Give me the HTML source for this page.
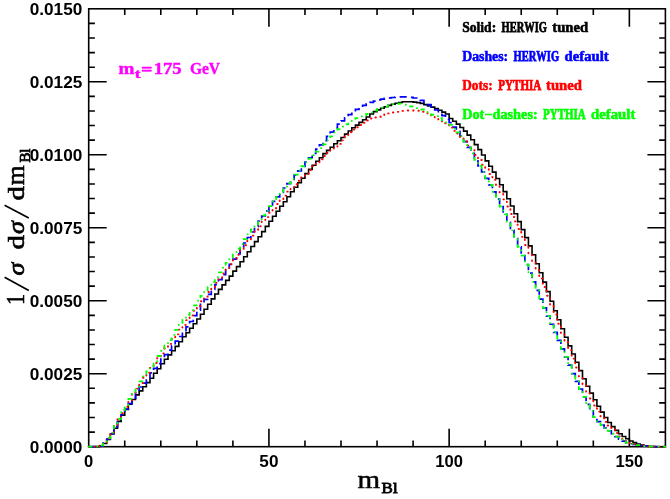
<!DOCTYPE html>
<html><head><meta charset="utf-8"><title>m_Bl</title>
<style>html,body{margin:0;padding:0;background:#fff;}svg{display:block;will-change:transform;}text{font-kerning:none;}</style></head>
<body>
<svg width="670" height="499" viewBox="0 0 670 499">
<rect width="670" height="499" fill="#fff"/>
<rect x="88.7" y="8.8" width="576.70" height="437.90" fill="none" stroke="#000" stroke-width="1.6"/>
<path d="M124.74,446.7v-6.2M124.74,8.8v6.2M160.79,446.7v-6.2M160.79,8.8v6.2M196.83,446.7v-6.2M196.83,8.8v6.2M232.88,446.7v-6.2M232.88,8.8v6.2M268.92,446.7v-18.0M268.92,8.8v18.0M304.96,446.7v-6.2M304.96,8.8v6.2M341.01,446.7v-6.2M341.01,8.8v6.2M377.05,446.7v-6.2M377.05,8.8v6.2M413.09,446.7v-6.2M413.09,8.8v6.2M449.14,446.7v-18.0M449.14,8.8v18.0M485.18,446.7v-6.2M485.18,8.8v6.2M521.23,446.7v-6.2M521.23,8.8v6.2M557.27,446.7v-6.2M557.27,8.8v6.2M593.31,446.7v-6.2M593.31,8.8v6.2M629.36,446.7v-18.0M629.36,8.8v18.0M88.7,432.10h6.2M665.4,432.10h-6.2M88.7,417.51h6.2M665.4,417.51h-6.2M88.7,402.91h6.2M665.4,402.91h-6.2M88.7,388.31h6.2M665.4,388.31h-6.2M88.7,373.72h18.0M665.4,373.72h-18.0M88.7,359.12h6.2M665.4,359.12h-6.2M88.7,344.52h6.2M665.4,344.52h-6.2M88.7,329.93h6.2M665.4,329.93h-6.2M88.7,315.33h6.2M665.4,315.33h-6.2M88.7,300.73h18.0M665.4,300.73h-18.0M88.7,286.14h6.2M665.4,286.14h-6.2M88.7,271.54h6.2M665.4,271.54h-6.2M88.7,256.94h6.2M665.4,256.94h-6.2M88.7,242.35h6.2M665.4,242.35h-6.2M88.7,227.75h18.0M665.4,227.75h-18.0M88.7,213.15h6.2M665.4,213.15h-6.2M88.7,198.56h6.2M665.4,198.56h-6.2M88.7,183.96h6.2M665.4,183.96h-6.2M88.7,169.36h6.2M665.4,169.36h-6.2M88.7,154.77h18.0M665.4,154.77h-18.0M88.7,140.17h6.2M665.4,140.17h-6.2M88.7,125.57h6.2M665.4,125.57h-6.2M88.7,110.98h6.2M665.4,110.98h-6.2M88.7,96.38h6.2M665.4,96.38h-6.2M88.7,81.78h18.0M665.4,81.78h-18.0M88.7,67.19h6.2M665.4,67.19h-6.2M88.7,52.59h6.2M665.4,52.59h-6.2M88.7,37.99h6.2M665.4,37.99h-6.2M88.7,23.40h6.2M665.4,23.40h-6.2" stroke="#000" stroke-width="1.6" fill="none"/>
<path d="M88.70,446.70L88.70,446.70L92.30,446.70L92.30,446.70L95.91,446.70L95.91,446.60L99.51,446.60L99.51,446.00L103.12,446.00L103.12,443.50L106.72,443.50L106.72,439.50L110.33,439.50L110.33,434.00L113.93,434.00L113.93,428.20L117.53,428.20L117.53,421.40L121.14,421.40L121.14,415.10L124.74,415.10L124.74,409.50L128.35,409.50L128.35,404.30L131.95,404.30L131.95,399.50L135.56,399.50L135.56,394.90L139.16,394.90L139.16,390.90L142.77,390.90L142.77,386.80L146.37,386.80L146.37,382.60L149.97,382.60L149.97,378.20L153.58,378.20L153.58,373.30L157.18,373.30L157.18,368.80L160.79,368.80L160.79,363.80L164.39,363.80L164.39,359.23L168.00,359.23L168.00,354.92L171.60,354.92L171.60,350.68L175.20,350.68L175.20,346.37L178.81,346.37L178.81,341.80L182.41,341.80L182.41,336.80L186.02,336.80L186.02,332.70L189.62,332.70L189.62,328.20L193.23,328.20L193.23,323.70L196.83,323.70L196.83,319.00L200.44,319.00L200.44,314.20L204.04,314.20L204.04,309.30L207.64,309.30L207.64,304.30L211.25,304.30L211.25,298.90L214.85,298.90L214.85,293.99L218.46,293.99L218.46,289.33L222.06,289.33L222.06,284.83L225.67,284.83L225.67,280.40L229.27,280.40L229.27,276.10L232.88,276.10L232.88,271.10L236.48,271.10L236.48,266.60L240.08,266.60L240.08,261.70L243.69,261.70L243.69,256.70L247.29,256.70L247.29,251.70L250.90,251.70L250.90,246.50L254.50,246.50L254.50,241.60L258.11,241.60L258.11,236.70L261.71,236.70L261.71,231.60L265.31,231.60L265.31,226.40L268.92,226.40L268.92,221.20L272.52,221.20L272.52,216.20L276.13,216.20L276.13,211.20L279.73,211.20L279.73,206.30L283.34,206.30L283.34,201.80L286.94,201.80L286.94,196.80L290.54,196.80L290.54,191.70L294.15,191.70L294.15,187.20L297.75,187.20L297.75,182.70L301.36,182.70L301.36,178.20L304.96,178.20L304.96,173.60L308.57,173.60L308.57,169.40L312.17,169.40L312.17,165.30L315.78,165.30L315.78,161.30L319.38,161.30L319.38,157.70L322.98,157.70L322.98,153.60L326.59,153.60L326.59,150.40L330.19,150.40L330.19,147.20L333.80,147.20L333.80,143.80L337.40,143.80L337.40,140.70L341.01,140.70L341.01,137.50L344.61,137.50L344.61,134.10L348.21,134.10L348.21,131.00L351.82,131.00L351.82,127.80L355.42,127.80L355.42,125.10L359.03,125.10L359.03,122.40L362.63,122.40L362.63,119.70L366.24,119.70L366.24,117.00L369.84,117.00L369.84,113.94L373.45,113.94L373.45,111.63L377.05,111.63L377.05,109.90L380.65,109.90L380.65,108.25L384.26,108.25L384.26,106.69L387.86,106.69L387.86,105.36L391.47,105.36L391.47,104.22L395.07,104.22L395.07,103.29L398.68,103.29L398.68,102.54L402.28,102.54L402.28,101.81L405.88,101.81L405.88,101.70L409.49,101.70L409.49,101.71L413.09,101.71L413.09,102.11L416.70,102.11L416.70,102.65L420.30,102.65L420.30,103.40L423.91,103.40L423.91,104.60L427.51,104.60L427.51,105.86L431.12,105.86L431.12,107.16L434.72,107.16L434.72,108.60L438.32,108.60L438.32,110.25L441.93,110.25L441.93,112.13L445.53,112.13L445.53,114.04L449.14,114.04L449.14,118.50L452.74,118.50L452.74,121.20L456.35,121.20L456.35,124.10L459.95,124.10L459.95,127.50L463.55,127.50L463.55,131.10L467.16,131.10L467.16,135.10L470.76,135.10L470.76,139.70L474.37,139.70L474.37,144.60L477.97,144.60L477.97,149.60L481.58,149.60L481.58,155.00L485.18,155.00L485.18,160.90L488.79,160.90L488.79,166.30L492.39,166.30L492.39,172.10L495.99,172.10L495.99,178.50L499.60,178.50L499.60,184.80L503.20,184.80L503.20,191.60L506.81,191.60L506.81,198.80L510.41,198.80L510.41,206.00L514.02,206.00L514.02,213.80L517.62,213.80L517.62,221.60L521.23,221.60L521.23,229.60L524.83,229.60L524.83,237.60L528.43,237.60L528.43,245.90L532.04,245.90L532.04,254.70L535.64,254.70L535.64,263.70L539.25,263.70L539.25,272.70L542.85,272.70L542.85,282.10L546.46,282.10L546.46,291.60L550.06,291.60L550.06,301.20L553.66,301.20L553.66,310.70L557.27,310.70L557.27,319.70L560.87,319.70L560.87,328.80L564.48,328.80L564.48,337.30L568.08,337.30L568.08,345.90L571.69,345.90L571.69,354.00L575.29,354.00L575.29,362.20L578.89,362.20L578.89,370.60L582.50,370.60L582.50,378.70L586.10,378.70L586.10,386.20L589.71,386.20L589.71,393.10L593.31,393.10L593.31,399.70L596.92,399.70L596.92,406.30L600.52,406.30L600.52,412.10L604.13,412.10L604.13,417.50L607.73,417.50L607.73,422.50L611.33,422.50L611.33,426.60L614.94,426.60L614.94,430.40L618.54,430.40L618.54,433.80L622.15,433.80L622.15,436.50L625.75,436.50L625.75,438.70L629.36,438.70L629.36,441.00L632.96,441.00L632.96,442.60L636.56,442.60L636.56,444.00L640.17,444.00L640.17,445.10L643.77,445.10L643.77,445.80L647.38,445.80L647.38,446.30L650.98,446.30L650.98,446.60L654.59,446.60L654.59,446.70L658.19,446.70L658.19,446.70L661.80,446.70L661.80,446.70L665.40,446.70L665.40,446.70" fill="none" stroke="#000" stroke-width="1.6" stroke-linecap="butt" stroke-linejoin="miter"/>
<path d="M88.70,446.70L88.70,446.70L92.30,446.70L92.30,446.68L95.91,446.68L95.91,446.60L99.51,446.60L99.51,445.80L103.12,445.80L103.12,443.17L106.72,443.17L106.72,439.00L110.33,439.00L110.33,433.57L113.93,433.57L113.93,426.88L117.53,426.88L117.53,420.40L121.14,420.40L121.14,414.65L124.74,414.65L124.74,409.09L128.35,409.09L128.35,403.61L131.95,403.61L131.95,398.10L135.56,398.10L135.56,392.26L139.16,392.26L139.16,387.00L142.77,387.00L142.77,383.20L146.37,383.20L146.37,377.80L149.97,377.80L149.97,372.95L153.58,372.95L153.58,368.30L157.18,368.30L157.18,363.68L160.79,363.68L160.79,359.13L164.39,359.13L164.39,354.63L168.00,354.63L168.00,350.15L171.60,350.15L171.60,345.65L175.20,345.65L175.20,341.12L178.81,341.12L178.81,336.51L182.41,336.51L182.41,331.80L186.02,331.80L186.02,326.90L189.62,326.90L189.62,321.50L193.23,321.50L193.23,315.60L196.83,315.60L196.83,310.20L200.44,310.20L200.44,304.30L204.04,304.30L204.04,299.40L207.64,299.40L207.64,294.46L211.25,294.46L211.25,289.51L214.85,289.51L214.85,284.54L218.46,284.54L218.46,279.55L222.06,279.55L222.06,274.54L225.67,274.54L225.67,269.48L229.27,269.48L229.27,264.37L232.88,264.37L232.88,259.20L236.48,259.20L236.48,253.89L240.08,253.89L240.08,248.48L243.69,248.48L243.69,243.00L247.29,243.00L247.29,237.49L250.90,237.49L250.90,232.00L254.50,232.00L254.50,226.56L258.11,226.56L258.11,221.21L261.71,221.21L261.71,215.99L265.31,215.99L265.31,210.94L268.92,210.94L268.92,206.10L272.52,206.10L272.52,201.41L276.13,201.41L276.13,196.84L279.73,196.84L279.73,192.37L283.34,192.37L283.34,187.98L286.94,187.98L286.94,183.65L290.54,183.65L290.54,179.35L294.15,179.35L294.15,175.07L297.75,175.07L297.75,170.78L301.36,170.78L301.36,166.47L304.96,166.47L304.96,162.12L308.57,162.12L308.57,157.77L312.17,157.77L312.17,153.43L315.78,153.43L315.78,149.14L319.38,149.14L319.38,144.90L322.98,144.90L322.98,140.63L326.59,140.63L326.59,136.32L330.19,136.32L330.19,132.06L333.80,132.06L333.80,127.97L337.40,127.97L337.40,124.16L341.01,124.16L341.01,120.78L344.61,120.78L344.61,117.79L348.21,117.79L348.21,114.72L351.82,114.72L351.82,111.90L355.42,111.90L355.42,109.37L359.03,109.37L359.03,107.22L362.63,107.22L362.63,105.45L366.24,105.45L366.24,103.89L369.84,103.89L369.84,102.44L373.45,102.44L373.45,101.03L377.05,101.03L377.05,99.86L380.65,99.86L380.65,99.05L384.26,99.05L384.26,98.39L387.86,98.39L387.86,97.88L391.47,97.88L391.47,97.48L395.07,97.48L395.07,97.11L398.68,97.11L398.68,96.86L402.28,96.86L402.28,96.80L405.88,96.80L405.88,96.90L409.49,96.90L409.49,97.31L413.09,97.31L413.09,97.98L416.70,97.98L416.70,99.05L420.30,99.05L420.30,100.46L423.91,100.46L423.91,102.36L427.51,102.36L427.51,104.56L431.12,104.56L431.12,106.80L434.72,106.80L434.72,109.99L438.32,109.99L438.32,112.74L441.93,112.74L441.93,115.55L445.53,115.55L445.53,119.46L449.14,119.46L449.14,122.71L452.74,122.71L452.74,127.21L456.35,127.21L456.35,131.33L459.95,131.33L459.95,136.21L463.55,136.21L463.55,141.69L467.16,141.69L467.16,147.33L470.76,147.33L470.76,153.47L474.37,153.47L474.37,159.83L477.97,159.83L477.97,165.94L481.58,165.94L481.58,171.84L485.18,171.84L485.18,178.43L488.79,178.43L488.79,184.91L492.39,184.91L492.39,191.86L495.99,191.86L495.99,199.13L499.60,199.13L499.60,206.50L503.20,206.50L503.20,214.36L506.81,214.36L506.81,222.26L510.41,222.26L510.41,230.33L514.02,230.33L514.02,238.40L517.62,238.40L517.62,246.80L521.23,246.80L521.23,255.66L524.83,255.66L524.83,264.57L528.43,264.57L528.43,273.15L532.04,273.15L532.04,281.78L535.64,281.78L535.64,290.38L539.25,290.38L539.25,299.12L542.85,299.12L542.85,307.83L546.46,307.83L546.46,316.06L550.06,316.06L550.06,324.27L553.66,324.27L553.66,332.37L557.27,332.37L557.27,340.46L560.87,340.46L560.87,348.84L564.48,348.84L564.48,356.92L568.08,356.92L568.08,365.22L571.69,365.22L571.69,373.56L575.29,373.56L575.29,381.42L578.89,381.42L578.89,389.02L582.50,389.02L582.50,396.89L586.10,396.89L586.10,404.44L589.71,404.44L589.71,410.97L593.31,410.97L593.31,417.07L596.92,417.07L596.92,421.71L600.52,421.71L600.52,425.02L604.13,425.02L604.13,427.87L607.73,427.87L607.73,430.78L611.33,430.78L611.33,433.75L614.94,433.75L614.94,436.57L618.54,436.57L618.54,439.05L622.15,439.05L622.15,441.06L625.75,441.06L625.75,442.71L629.36,442.71L629.36,443.75L632.96,443.75L632.96,444.49L636.56,444.49L636.56,445.07L640.17,445.07L640.17,445.60L643.77,445.60L643.77,446.14L647.38,446.14L647.38,446.50L650.98,446.50L650.98,446.64L654.59,446.64L654.59,446.70L658.19,446.70L658.19,446.70L661.80,446.70L661.80,446.70L665.40,446.70L665.40,446.70" fill="none" stroke="#00f" stroke-width="1.7" stroke-dasharray="7.2 4.6" stroke-linecap="butt" stroke-linejoin="miter"/>
<path d="M88.70,446.70L88.70,446.70L92.30,446.70L92.30,446.65L95.91,446.65L95.91,446.50L99.51,446.50L99.51,445.50L103.12,445.50L103.12,442.74L106.72,442.74L106.72,438.50L110.33,438.50L110.33,432.96L113.93,432.96L113.93,426.14L117.53,426.14L117.53,419.40L121.14,419.40L121.14,413.14L124.74,413.14L124.74,406.85L128.35,406.85L128.35,400.62L131.95,400.62L131.95,394.52L135.56,394.52L135.56,388.62L139.16,388.62L139.16,383.00L142.77,383.00L142.77,377.78L146.37,377.78L146.37,372.80L149.97,372.80L149.97,367.86L153.58,367.86L153.58,362.97L157.18,362.97L157.18,358.13L160.79,358.13L160.79,353.34L164.39,353.34L164.39,348.57L168.00,348.57L168.00,343.83L171.60,343.83L171.60,339.10L175.20,339.10L175.20,334.37L178.81,334.37L178.81,329.64L182.41,329.64L182.41,324.90L186.02,324.90L186.02,320.15L189.62,320.15L189.62,315.42L193.23,315.42L193.23,310.70L196.83,310.70L196.83,306.00L200.44,306.00L200.44,301.32L204.04,301.32L204.04,296.65L207.64,296.65L207.64,292.00L211.25,292.00L211.25,287.36L214.85,287.36L214.85,282.72L218.46,282.72L218.46,278.09L222.06,278.09L222.06,273.45L225.67,273.45L225.67,268.80L229.27,268.80L229.27,264.15L232.88,264.15L232.88,259.47L236.48,259.47L236.48,254.74L240.08,254.74L240.08,249.98L243.69,249.98L243.69,245.20L247.29,245.20L247.29,240.41L250.90,240.41L250.90,235.64L254.50,235.64L254.50,230.91L258.11,230.91L258.11,226.23L261.71,226.23L261.71,221.62L265.31,221.62L265.31,217.11L268.92,217.11L268.92,212.69L272.52,212.69L272.52,208.31L276.13,208.31L276.13,203.99L279.73,203.99L279.73,199.75L283.34,199.75L283.34,195.63L286.94,195.63L286.94,191.65L290.54,191.65L290.54,187.84L294.15,187.84L294.15,184.27L297.75,184.27L297.75,180.81L301.36,180.81L301.36,177.35L304.96,177.35L304.96,173.77L308.57,173.77L308.57,170.06L312.17,170.06L312.17,166.33L315.78,166.33L315.78,162.67L319.38,162.67L319.38,159.20L322.98,159.20L322.98,156.00L326.59,156.00L326.59,152.99L330.19,152.99L330.19,150.07L333.80,150.07L333.80,147.09L337.40,147.09L337.40,143.91L341.01,143.91L341.01,140.33L344.61,140.33L344.61,136.11L348.21,136.11L348.21,132.18L351.82,132.18L351.82,129.49L355.42,129.49L355.42,127.30L359.03,127.30L359.03,125.04L362.63,125.04L362.63,122.77L366.24,122.77L366.24,120.51L369.84,120.51L369.84,118.56L373.45,118.56L373.45,117.43L377.05,117.43L377.05,116.70L380.65,116.70L380.65,115.54L384.26,115.54L384.26,114.53L387.86,114.53L387.86,113.39L391.47,113.39L391.47,112.46L395.07,112.46L395.07,111.86L398.68,111.86L398.68,111.43L402.28,111.43L402.28,110.92L405.88,110.92L405.88,110.55L409.49,110.55L409.49,110.41L413.09,110.41L413.09,110.49L416.70,110.49L416.70,110.82L420.30,110.82L420.30,111.76L423.91,111.76L423.91,112.80L427.51,112.80L427.51,114.45L431.12,114.45L431.12,116.50L434.72,116.50L434.72,118.71L438.32,118.71L438.32,120.96L441.93,120.96L441.93,123.28L445.53,123.28L445.53,125.02L449.14,125.02L449.14,127.59L452.74,127.59L452.74,130.85L456.35,130.85L456.35,133.60L459.95,133.60L459.95,136.97L463.55,136.97L463.55,141.26L467.16,141.26L467.16,145.57L470.76,145.57L470.76,150.10L474.37,150.10L474.37,155.00L477.97,155.00L477.97,159.92L481.58,159.92L481.58,164.71L485.18,164.71L485.18,169.09L488.79,169.09L488.79,174.04L492.39,174.04L492.39,179.74L495.99,179.74L495.99,185.73L499.60,185.73L499.60,192.35L503.20,192.35L503.20,199.37L506.81,199.37L506.81,206.54L510.41,206.54L510.41,214.02L514.02,214.02L514.02,221.39L517.62,221.39L517.62,229.04L521.23,229.04L521.23,236.84L524.83,236.84L524.83,244.93L528.43,244.93L528.43,253.46L532.04,253.46L532.04,262.02L535.64,262.02L535.64,270.20L539.25,270.20L539.25,278.51L542.85,278.51L542.85,286.98L546.46,286.98L546.46,295.72L550.06,295.72L550.06,305.19L553.66,305.19L553.66,314.54L557.27,314.54L557.27,323.74L560.87,323.74L560.87,332.72L564.48,332.72L564.48,341.39L568.08,341.39L568.08,350.08L571.69,350.08L571.69,358.63L575.29,358.63L575.29,367.55L578.89,367.55L578.89,376.32L582.50,376.32L582.50,384.39L586.10,384.39L586.10,391.68L589.71,391.68L589.71,398.55L593.31,398.55L593.31,405.46L596.92,405.46L596.92,411.58L600.52,411.58L600.52,417.41L604.13,417.41L604.13,421.92L607.73,421.92L607.73,425.56L611.33,425.56L611.33,429.35L614.94,429.35L614.94,433.03L618.54,433.03L618.54,436.35L622.15,436.35L622.15,439.16L625.75,439.16L625.75,441.56L629.36,441.56L629.36,443.02L632.96,443.02L632.96,444.04L636.56,444.04L636.56,444.84L640.17,444.84L640.17,445.50L643.77,445.50L643.77,446.11L647.38,446.11L647.38,446.50L650.98,446.50L650.98,446.64L654.59,446.64L654.59,446.70L658.19,446.70L658.19,446.70L661.80,446.70L661.80,446.70L665.40,446.70L665.40,446.70" fill="none" stroke="#f00" stroke-width="1.9" stroke-dasharray="0.5 5.1" stroke-linecap="round" stroke-linejoin="miter"/>
<path d="M88.70,446.70L88.70,446.70L92.30,446.70L92.30,446.62L95.91,446.62L95.91,446.40L99.51,446.40L99.51,445.30L103.12,445.30L103.12,442.41L106.72,442.41L106.72,438.10L110.33,438.10L110.33,432.70L113.93,432.70L113.93,425.90L117.53,425.90L117.53,418.92L121.14,418.92L121.14,411.90L124.74,411.90L124.74,405.20L128.35,405.20L128.35,398.88L131.95,398.88L131.95,392.77L135.56,392.77L135.56,386.93L139.16,386.93L139.16,381.40L142.77,381.40L142.77,376.37L146.37,376.37L146.37,371.50L149.97,371.50L149.97,366.41L153.58,366.41L153.58,361.24L157.18,361.24L157.18,356.01L160.79,356.01L160.79,350.74L164.39,350.74L164.39,345.46L168.00,345.46L168.00,340.19L171.60,340.19L171.60,334.96L175.20,334.96L175.20,329.78L178.81,329.78L178.81,324.69L182.41,324.69L182.41,319.70L186.02,319.70L186.02,314.85L189.62,314.85L189.62,310.11L193.23,310.11L193.23,305.41L196.83,305.41L196.83,300.70L200.44,300.70L200.44,295.96L204.04,295.96L204.04,291.24L207.64,291.24L207.64,286.51L211.25,286.51L211.25,281.79L214.85,281.79L214.85,277.07L218.46,277.07L218.46,272.35L222.06,272.35L222.06,267.63L225.67,267.63L225.67,262.91L229.27,262.91L229.27,258.18L232.88,258.18L232.88,253.44L236.48,253.44L236.48,248.68L240.08,248.68L240.08,243.89L243.69,243.89L243.69,239.09L247.29,239.09L247.29,234.29L250.90,234.29L250.90,229.51L254.50,229.51L254.50,224.74L258.11,224.74L258.11,220.01L261.71,220.01L261.71,215.32L265.31,215.32L265.31,210.68L268.92,210.68L268.92,206.10L272.52,206.10L272.52,201.50L276.13,201.50L276.13,196.90L279.73,196.90L279.73,192.32L283.34,192.32L283.34,187.77L286.94,187.77L286.94,183.27L290.54,183.27L290.54,178.85L294.15,178.85L294.15,174.53L297.75,174.53L297.75,170.32L301.36,170.32L301.36,166.26L304.96,166.26L304.96,162.36L308.57,162.36L308.57,158.69L312.17,158.69L312.17,155.16L315.78,155.16L315.78,151.67L319.38,151.67L319.38,148.10L322.98,148.10L322.98,144.29L326.59,144.29L326.59,140.28L330.19,140.28L330.19,136.29L333.80,136.29L333.80,132.53L337.40,132.53L337.40,129.22L341.01,129.22L341.01,126.58L344.61,126.58L344.61,124.45L348.21,124.45L348.21,122.28L351.82,122.28L351.82,120.09L355.42,120.09L355.42,118.04L359.03,118.04L359.03,116.43L362.63,116.43L362.63,115.06L366.24,115.06L366.24,113.88L369.84,113.88L369.84,112.32L373.45,112.32L373.45,110.49L377.05,110.49L377.05,109.01L380.65,109.01L380.65,107.77L384.26,107.77L384.26,106.71L387.86,106.71L387.86,105.21L391.47,105.21L391.47,104.21L395.07,104.21L395.07,103.76L398.68,103.76L398.68,103.60L402.28,103.60L402.28,104.16L405.88,104.16L405.88,105.07L409.49,105.07L409.49,106.29L413.09,106.29L413.09,107.36L416.70,107.36L416.70,108.19L420.30,108.19L420.30,109.48L423.91,109.48L423.91,111.26L427.51,111.26L427.51,113.08L431.12,113.08L431.12,114.75L434.72,114.75L434.72,116.18L438.32,116.18L438.32,118.20L441.93,118.20L441.93,120.36L445.53,120.36L445.53,122.41L449.14,122.41L449.14,124.78L452.74,124.78L452.74,128.60L456.35,128.60L456.35,132.38L459.95,132.38L459.95,136.07L463.55,136.07L463.55,141.69L467.16,141.69L467.16,147.33L470.76,147.33L470.76,153.47L474.37,153.47L474.37,159.83L477.97,159.83L477.97,165.94L481.58,165.94L481.58,171.84L485.18,171.84L485.18,178.43L488.79,178.43L488.79,184.91L492.39,184.91L492.39,191.86L495.99,191.86L495.99,199.13L499.60,199.13L499.60,206.50L503.20,206.50L503.20,214.36L506.81,214.36L506.81,222.26L510.41,222.26L510.41,230.33L514.02,230.33L514.02,238.40L517.62,238.40L517.62,246.80L521.23,246.80L521.23,255.66L524.83,255.66L524.83,264.57L528.43,264.57L528.43,273.15L532.04,273.15L532.04,281.78L535.64,281.78L535.64,290.38L539.25,290.38L539.25,299.12L542.85,299.12L542.85,307.83L546.46,307.83L546.46,316.06L550.06,316.06L550.06,324.27L553.66,324.27L553.66,332.37L557.27,332.37L557.27,340.46L560.87,340.46L560.87,348.84L564.48,348.84L564.48,356.92L568.08,356.92L568.08,365.22L571.69,365.22L571.69,373.56L575.29,373.56L575.29,381.42L578.89,381.42L578.89,389.02L582.50,389.02L582.50,396.89L586.10,396.89L586.10,404.44L589.71,404.44L589.71,410.97L593.31,410.97L593.31,417.07L596.92,417.07L596.92,421.71L600.52,421.71L600.52,425.02L604.13,425.02L604.13,427.87L607.73,427.87L607.73,430.78L611.33,430.78L611.33,433.75L614.94,433.75L614.94,436.57L618.54,436.57L618.54,439.05L622.15,439.05L622.15,441.06L625.75,441.06L625.75,442.71L629.36,442.71L629.36,443.75L632.96,443.75L632.96,444.49L636.56,444.49L636.56,445.07L640.17,445.07L640.17,445.60L643.77,445.60L643.77,446.14L647.38,446.14L647.38,446.50L650.98,446.50L650.98,446.64L654.59,446.64L654.59,446.70L658.19,446.70L658.19,446.70L661.80,446.70L661.80,446.70L665.40,446.70L665.40,446.70" fill="none" stroke="#0f0" stroke-width="1.8" stroke-dasharray="2.9 5.9 0.3 5.4" stroke-linecap="round" stroke-linejoin="miter"/>
<g font-family="Liberation Sans, sans-serif" font-weight="bold" font-size="15.9px" fill="#000">
<text x="82.3" y="453.20" text-anchor="end" textLength="52.6" lengthAdjust="spacingAndGlyphs">0.0000</text>
<text x="82.3" y="380.22" text-anchor="end" textLength="52.6" lengthAdjust="spacingAndGlyphs">0.0025</text>
<text x="82.3" y="307.23" text-anchor="end" textLength="52.6" lengthAdjust="spacingAndGlyphs">0.0050</text>
<text x="82.3" y="234.25" text-anchor="end" textLength="52.6" lengthAdjust="spacingAndGlyphs">0.0075</text>
<text x="82.3" y="161.27" text-anchor="end" textLength="52.6" lengthAdjust="spacingAndGlyphs">0.0100</text>
<text x="82.3" y="88.28" text-anchor="end" textLength="52.6" lengthAdjust="spacingAndGlyphs">0.0125</text>
<text x="82.3" y="15.30" text-anchor="end" textLength="52.6" lengthAdjust="spacingAndGlyphs">0.0150</text>
<text x="88.70" y="467.4" text-anchor="middle" textLength="9.2" lengthAdjust="spacingAndGlyphs">0</text>
<text x="268.92" y="467.4" text-anchor="middle" textLength="19.1" lengthAdjust="spacingAndGlyphs">50</text>
<text x="449.14" y="467.4" text-anchor="middle" textLength="27.6" lengthAdjust="spacingAndGlyphs">100</text>
<text x="629.36" y="467.4" text-anchor="middle" textLength="27.6" lengthAdjust="spacingAndGlyphs">150</text>
</g>
<g font-family="Liberation Serif, serif" font-weight="bold" font-size="14.1px">
<text x="462.20" y="31.85" fill="#000" stroke="#000" stroke-width="0.55" textLength="34.00" lengthAdjust="spacingAndGlyphs">Solid:</text>
<text x="501.60" y="31.85" fill="#000" stroke="#000" stroke-width="0.75" textLength="45.30" lengthAdjust="spacingAndGlyphs">HERWIG</text>
<text x="552.30" y="31.85" fill="#000" stroke="#000" stroke-width="0.55" textLength="35.80" lengthAdjust="spacingAndGlyphs">tuned</text>
<text x="462.20" y="60.9" fill="#00f" stroke="#00f" stroke-width="0.55" textLength="46.00" lengthAdjust="spacingAndGlyphs">Dashes:</text>
<text x="513.60" y="60.9" fill="#00f" stroke="#00f" stroke-width="0.75" textLength="45.50" lengthAdjust="spacingAndGlyphs">HERWIG</text>
<text x="564.50" y="60.9" fill="#00f" stroke="#00f" stroke-width="0.55" textLength="44.20" lengthAdjust="spacingAndGlyphs">default</text>
<text x="462.20" y="89.8" fill="#f00" stroke="#f00" stroke-width="0.55" textLength="30.40" lengthAdjust="spacingAndGlyphs">Dots:</text>
<text x="498.30" y="89.8" fill="#f00" stroke="#f00" stroke-width="0.75" textLength="43.00" lengthAdjust="spacingAndGlyphs">PYTHIA</text>
<text x="546.00" y="89.8" fill="#f00" stroke="#f00" stroke-width="0.55" textLength="35.90" lengthAdjust="spacingAndGlyphs">tuned</text>
<text x="462.20" y="118.8" fill="#0f0" stroke="#0f0" stroke-width="0.55" textLength="75.50" lengthAdjust="spacingAndGlyphs">Dot−dashes:</text>
<text x="543.00" y="118.8" fill="#0f0" stroke="#0f0" stroke-width="0.75" textLength="42.70" lengthAdjust="spacingAndGlyphs">PYTHIA</text>
<text x="591.10" y="118.8" fill="#0f0" stroke="#0f0" stroke-width="0.55" textLength="44.20" lengthAdjust="spacingAndGlyphs">default</text>
</g>
<g font-family="Liberation Serif, serif" font-weight="bold" fill="#f0f" stroke="#f0f" stroke-width="0.4">
<text x="118.50" y="73.9" font-size="17.6px" textLength="15.90" lengthAdjust="spacingAndGlyphs">m</text>
<text x="134.70" y="78.0" font-size="13px" textLength="5.80" lengthAdjust="spacingAndGlyphs">t</text>
<text x="141.00" y="74.5" font-size="17.6px" textLength="11.50" lengthAdjust="spacingAndGlyphs">=</text>
<text x="153.70" y="73.9" font-size="17.6px" textLength="28.00" lengthAdjust="spacingAndGlyphs">175</text>
<text x="189.90" y="73.9" font-size="17.6px" textLength="30.20" lengthAdjust="spacingAndGlyphs">GeV</text>
</g>
<g font-family="Liberation Serif, serif" fill="#000" stroke="#000" stroke-width="0.5"><text x="357.5" y="487.8" font-size="26px" textLength="22.6" lengthAdjust="spacingAndGlyphs">m</text><text x="381.6" y="493.4" font-size="15px" stroke-width="0.8" textLength="16" lengthAdjust="spacingAndGlyphs">Bl</text></g>
<g transform="translate(23.8,304.2) rotate(-90)" font-family="Liberation Serif, serif" fill="#000" stroke="#000" stroke-width="0.5">
<text x="-0.8" y="0" font-size="24.4px" stroke-width="0.6" textLength="11.0" lengthAdjust="spacingAndGlyphs">1</text>
<text x="28.7" y="0" font-size="22.6px" stroke-width="0.7" font-style="italic" textLength="12.8" lengthAdjust="spacingAndGlyphs">σ</text>
<text x="54.6" y="0" font-size="23.8px" stroke-width="0.6" textLength="14.4" lengthAdjust="spacingAndGlyphs">d</text>
<text x="70.2" y="0" font-size="22.6px" stroke-width="0.7" font-style="italic" textLength="12.8" lengthAdjust="spacingAndGlyphs">σ</text>
<text x="103.8" y="0" font-size="23.8px" stroke-width="0.6" textLength="14.4" lengthAdjust="spacingAndGlyphs">d</text>
<text x="118.9" y="0" font-size="24.2px" stroke-width="0.6" textLength="19.9" lengthAdjust="spacingAndGlyphs">m</text>
<text x="141.6" y="5.9" font-size="14.5px" stroke-width="0.8" textLength="14.1" lengthAdjust="spacingAndGlyphs">Bl</text>
<path d="M13.6,5L27.0,-19.2" stroke-width="1.7" fill="none"/>
<path d="M86.3,5L99.0,-19.2" stroke-width="1.7" fill="none"/>
</g>
</svg>
</body></html>
